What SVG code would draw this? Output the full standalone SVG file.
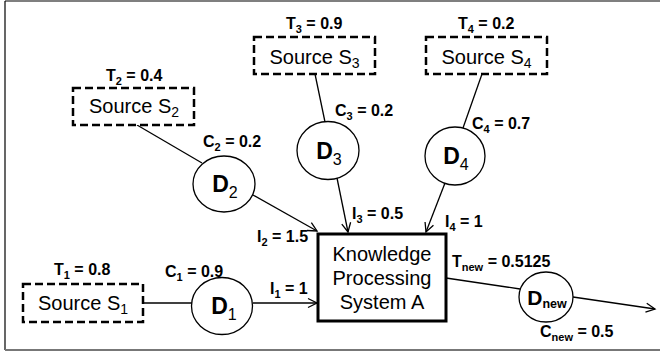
<svg xmlns="http://www.w3.org/2000/svg" width="660" height="354" viewBox="0 0 660 354">
<defs>
<style>
.lbl{font-family:"Liberation Sans",Arial,sans-serif;font-size:16px;font-weight:bold;fill:#000}
.lsub{font-size:11px}
.src{font-family:"Liberation Sans",Arial,sans-serif;font-size:20px;fill:#000;text-anchor:middle}
.ssub{font-size:14px}
.dn{font-family:"Liberation Sans",Arial,sans-serif;font-size:23px;font-weight:bold;fill:#000;text-anchor:middle}
.dsub{font-size:16px;font-weight:normal}
.srcbox{fill:#fff;stroke:#000;stroke-width:2.5;stroke-dasharray:8 4}
.dnode{fill:#fff;stroke:#000;stroke-width:1.3}
.conn{fill:none;stroke:#000;stroke-width:1.3}
.arr{marker-end:url(#ah)}
</style>
<marker id="ah" markerUnits="userSpaceOnUse" viewBox="-1 -1 12 12" refX="9" refY="4.5" markerWidth="12" markerHeight="12" orient="auto" overflow="visible">
<path d="M0,0 L9,4.5 L0,9" fill="none" stroke="#000" stroke-width="1.3"/>
</marker>
</defs>
<rect width="660" height="354" fill="#fff"/>
<g id="frame">
<line x1="5" y1="1" x2="660" y2="1" stroke="#000" stroke-width="1.2"/>
<line x1="5" y1="1" x2="5" y2="350" stroke="#000" stroke-width="1.2"/>
<line x1="5" y1="350" x2="660" y2="350" stroke="#777" stroke-width="2"/>
</g>
<g id="connectors">
<path class="conn" d="M143,303 L192,303"/>
<path class="conn arr" d="M253,303 L317,303"/>
<path class="conn" d="M137,125 L202,163"/>
<path class="conn arr" d="M253,195 L317,231"/>
<path class="conn" d="M315,74 L325,122"/>
<path class="conn arr" d="M337,178 L348,232"/>
<path class="conn" d="M482,74 L463,128"/>
<path class="conn arr" d="M445,183 L426,232"/>
<path class="conn" d="M446,278 L520,289"/>
<path class="conn arr" d="M573,297 L655,309"/>
</g>
<g id="sourceS1">
<rect class="srcbox" x="23" y="284" width="120" height="38"/>
<text class="src" x="83" y="310">Source S<tspan class="ssub" dy="3.5">1</tspan></text>
<text class="lbl" x="54" y="275">T<tspan class="lsub" dy="4">1</tspan><tspan dy="-4"> = 0.8</tspan></text>
</g>
<g id="sourceS2">
<rect class="srcbox" x="73" y="88" width="121" height="37"/>
<text class="src" x="134" y="113">Source S<tspan class="ssub" dy="3.5">2</tspan></text>
<text class="lbl" x="106" y="81">T<tspan class="lsub" dy="4">2</tspan><tspan dy="-4"> = 0.4</tspan></text>
</g>
<g id="sourceS3">
<rect class="srcbox" x="254" y="37" width="121" height="37"/>
<text class="src" x="314.5" y="64">Source S<tspan class="ssub" dy="3.5">3</tspan></text>
<text class="lbl" x="286" y="29">T<tspan class="lsub" dy="4">3</tspan><tspan dy="-4"> = 0.9</tspan></text>
</g>
<g id="sourceS4">
<rect class="srcbox" x="426" y="37" width="121" height="37"/>
<text class="src" x="486.5" y="64">Source S<tspan class="ssub" dy="3.5">4</tspan></text>
<text class="lbl" x="458" y="29">T<tspan class="lsub" dy="4">4</tspan><tspan dy="-4"> = 0.2</tspan></text>
</g>
<g id="D1">
<ellipse class="dnode" cx="222" cy="306" rx="30.5" ry="28.5"/>
<text class="dn" x="224" y="314">D<tspan class="dsub" dy="6">1</tspan></text>
<text class="lbl" x="165" y="277">C<tspan class="lsub" dy="4">1</tspan><tspan dy="-4"> = 0.9</tspan></text>
</g>
<g id="D2">
<ellipse class="dnode" cx="224" cy="184" rx="31" ry="28"/>
<text class="dn" x="225" y="192">D<tspan class="dsub" dy="6">2</tspan></text>
<text class="lbl" x="203" y="147">C<tspan class="lsub" dy="4">2</tspan><tspan dy="-4"> = 0.2</tspan></text>
</g>
<g id="D3">
<ellipse class="dnode" cx="328" cy="150.5" rx="31" ry="29"/>
<text class="dn" x="329" y="159">D<tspan class="dsub" dy="6">3</tspan></text>
<text class="lbl" x="335" y="115.5">C<tspan class="lsub" dy="4">3</tspan><tspan dy="-4"> = 0.2</tspan></text>
</g>
<g id="D4">
<ellipse class="dnode" cx="455" cy="156" rx="30" ry="29"/>
<text class="dn" x="456" y="164">D<tspan class="dsub" dy="6">4</tspan></text>
<text class="lbl" x="472" y="128.5">C<tspan class="lsub" dy="4">4</tspan><tspan dy="-4"> = 0.7</tspan></text>
</g>
<g id="systemA">
<rect x="318" y="234" width="128" height="87" fill="#fff" stroke="#000" stroke-width="3"/>
<text class="src" x="382" y="260.5">Knowledge</text>
<text class="src" x="382" y="284.5">Processing</text>
<text class="src" x="382" y="308.5">System A</text>
</g>
<g id="Dnew">
<ellipse class="dnode" cx="546" cy="297" rx="27" ry="25"/>
<text class="dn" x="547" y="305" style="font-size:21px">D<tspan style="font-size:12.5px" dy="2.5">new</tspan></text>
<text class="lbl" x="452" y="267">T<tspan class="lsub" dy="4">new</tspan><tspan dy="-4"> = 0.5125</tspan></text>
<text class="lbl" x="540" y="336.5">C<tspan class="lsub" dy="4">new</tspan><tspan dy="-4"> = 0.5</tspan></text>
</g>
<g id="inputLabels">
<text class="lbl" x="270" y="293.5">I<tspan class="lsub" dy="4">1</tspan><tspan dy="-4"> = 1</tspan></text>
<text class="lbl" x="257" y="242">I<tspan class="lsub" dy="4">2</tspan><tspan dy="-4"> = 1.5</tspan></text>
<text class="lbl" x="352" y="218.5">I<tspan class="lsub" dy="4">3</tspan><tspan dy="-4"> = 0.5</tspan></text>
<text class="lbl" x="445" y="226.5">I<tspan class="lsub" dy="4">4</tspan><tspan dy="-4"> = 1</tspan></text>
</g>
</svg>
